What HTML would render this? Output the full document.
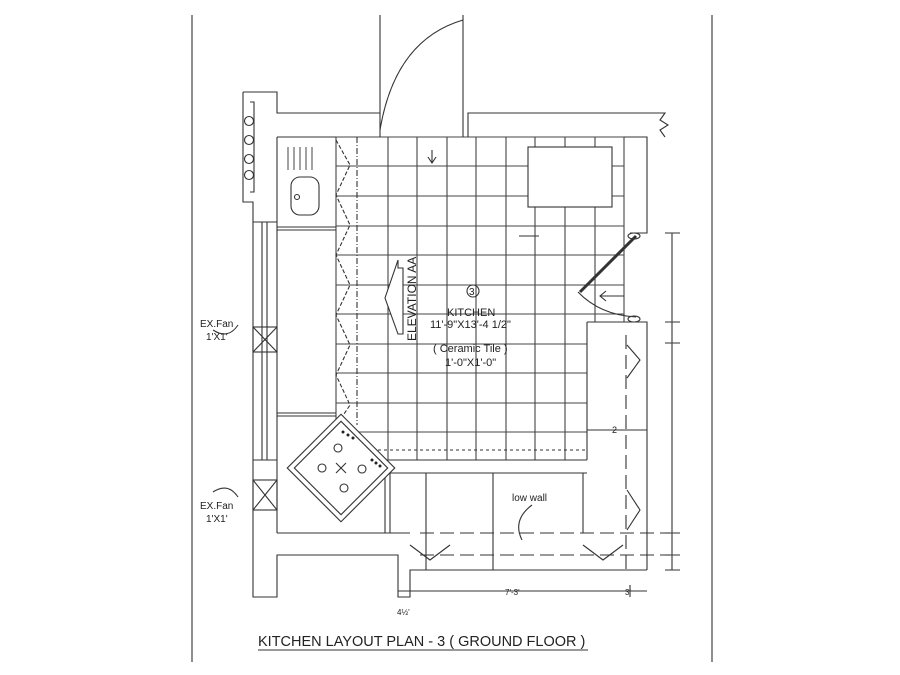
<!DOCTYPE html>
<html><head><meta charset="utf-8"><style>body{margin:0;background:#fff}svg{display:block}text{font-family:"Liberation Sans",sans-serif;fill:#222}</style></head><body>
<svg width="900" height="675" viewBox="0 0 900 675" xmlns="http://www.w3.org/2000/svg" stroke="#333" fill="none" stroke-width="1.1">
<line x1="192" y1="15" x2="192" y2="662"/><line x1="712" y1="15" x2="712" y2="662"/>
<g stroke="#444">
<line x1="336" y1="137" x2="624" y2="137"/>
<line x1="336" y1="166" x2="624" y2="166"/><line x1="336" y1="196" x2="624" y2="196"/><line x1="336" y1="226" x2="624" y2="226"/><line x1="336" y1="255" x2="624" y2="255"/><line x1="336" y1="285" x2="624" y2="285"/><line x1="336" y1="314" x2="624" y2="314"/><line x1="336" y1="344" x2="587" y2="344"/><line x1="336" y1="373" x2="587" y2="373"/><line x1="336" y1="403" x2="587" y2="403"/><line x1="355" y1="432" x2="587" y2="432"/>
<line x1="388" y1="137" x2="388" y2="460"/><line x1="417" y1="137" x2="417" y2="460"/><line x1="447" y1="137" x2="447" y2="460"/><line x1="476" y1="137" x2="476" y2="460"/><line x1="506" y1="137" x2="506" y2="460"/><line x1="535" y1="137" x2="535" y2="460"/><line x1="565" y1="137" x2="565" y2="460"/><line x1="595" y1="137" x2="595" y2="322"/><line x1="624" y1="137" x2="624" y2="322"/>
<line x1="336" y1="137" x2="336" y2="422"/>
</g>
<line x1="357" y1="137" x2="357" y2="425" stroke-dasharray="6,2,1,2"/>
<polyline points="336,140 350,165 336,195 350,225 336,255 350,285 336,315 350,345 336,375 350,405 340,420" stroke-dasharray="4,2"/>
<rect x="528" y="147" width="84" height="60" fill="#fff"/>
<polyline points="243,92 277,92 277,113 380,113"/>
<polyline points="243,92 243,202 253,202 253,597 277,597 277,555 398,555 398,597 410,597 410,570 647,570"/>
<polyline points="250,102 254,102 254,192 250,192"/>
<circle cx="249" cy="121" r="4.5"/><circle cx="249" cy="140" r="4.5"/><circle cx="249" cy="159" r="4.5"/><circle cx="249" cy="175" r="4.5"/>
<line x1="277" y1="137" x2="277" y2="533"/><line x1="262" y1="222" x2="262" y2="460"/><line x1="267" y1="222" x2="267" y2="460"/>
<line x1="253" y1="222" x2="277" y2="222"/><line x1="253" y1="460" x2="277" y2="460"/>
<rect x="253" y="327" width="24" height="25"/><line x1="253" y1="327" x2="277" y2="352"/><line x1="277" y1="327" x2="253" y2="352"/>
<rect x="253" y="480" width="24" height="30"/><line x1="253" y1="480" x2="277" y2="510"/><line x1="277" y1="480" x2="253" y2="510"/>
<line x1="277" y1="137" x2="336" y2="137"/><line x1="277" y1="227" x2="336" y2="227"/><line x1="277" y1="230" x2="336" y2="230"/>
<line x1="277" y1="413" x2="336" y2="413"/><line x1="277" y1="416" x2="336" y2="416"/>
<line x1="277" y1="533" x2="410" y2="533"/>
<g stroke="#555"><line x1="288" y1="147" x2="288" y2="170"/><line x1="294" y1="147" x2="294" y2="170"/><line x1="300" y1="147" x2="300" y2="170"/><line x1="306" y1="147" x2="306" y2="170"/><line x1="312" y1="147" x2="312" y2="170"/></g>
<rect x="291" y="177" width="28" height="38" rx="9"/><circle cx="297" cy="197" r="2.5"/>
<line x1="380" y1="15" x2="380" y2="137"/><line x1="463" y1="15" x2="463" y2="137"/>
<path d="M380,130 Q395,40 463,20"/>
<polyline points="468,137 468,113 665,113 660,120 668,125 660,130 665,137"/>
<polyline points="624,137 647,137 647,233 630,233"/>
<path d="M432,150 v12 M428,157 l4,6 l4,-6"/>
<line x1="636" y1="236" x2="580" y2="292" stroke-width="3"/>
<path d="M578,292 Q600,315 636,317"/>
<ellipse cx="634" cy="236" rx="6" ry="3"/><ellipse cx="634" cy="319" rx="6" ry="3"/>
<path d="M600,296 h24 M606,291 l-6,5 l6,5"/>
<path d="M519,236 h20"/>
<polyline points="587,322 647,322 647,570"/>
<line x1="587" y1="322" x2="587" y2="460"/>
<line x1="626" y1="335" x2="626" y2="570" stroke-dasharray="14,6"/>
<polyline points="627,345 640,360 627,378"/><polyline points="627,490 640,510 627,530"/>
<line x1="587" y1="430" x2="647" y2="430"/>
<text x="612" y="433" font-size="9" stroke="none">2</text>
<line x1="672" y1="233" x2="672" y2="570"/>
<g stroke="#444"><line x1="665" y1="233" x2="680" y2="233"/><line x1="665" y1="322" x2="680" y2="322"/><line x1="665" y1="343" x2="680" y2="343"/><line x1="665" y1="533" x2="680" y2="533"/><line x1="665" y1="555" x2="680" y2="555"/><line x1="665" y1="570" x2="680" y2="570"/></g>
<line x1="385" y1="460" x2="587" y2="460"/><line x1="385" y1="473" x2="587" y2="473"/>
<line x1="360" y1="450" x2="587" y2="450" stroke-dasharray="3,3"/>
<line x1="420" y1="533" x2="670" y2="533" stroke-dasharray="14,6"/><line x1="420" y1="555" x2="670" y2="555" stroke-dasharray="14,6"/>
<line x1="385" y1="473" x2="385" y2="533"/><line x1="390" y1="473" x2="390" y2="533"/><line x1="583" y1="473" x2="583" y2="533"/>
<polyline points="410,545 430,560 450,545"/><polyline points="583,545 603,560 623,545"/>
<line x1="426" y1="473" x2="426" y2="570"/><line x1="493" y1="473" x2="493" y2="570"/>
<line x1="398" y1="591" x2="647" y2="591"/><line x1="630" y1="585" x2="630" y2="597"/>
<g transform="translate(341,468) rotate(45)">
<rect x="-38" y="-38" width="76" height="76" fill="#fff"/><rect x="-33" y="-33" width="66" height="66"/>
</g>
<g stroke="#333"><circle cx="338" cy="448" r="4"/><circle cx="322" cy="468" r="4"/><circle cx="362" cy="469" r="4"/><circle cx="344" cy="488" r="4"/>
<path d="M336,463 l10,10 M346,463 l-10,10"/></g>
<g fill="#222" stroke="none"><circle cx="343" cy="432" r="1.5"/><circle cx="348" cy="435" r="1.5"/><circle cx="353" cy="438" r="1.5"/><circle cx="372" cy="460" r="1.5"/><circle cx="376" cy="463" r="1.5"/><circle cx="380" cy="466" r="1.5"/></g>
<polygon points="398,260 398,268 403,268 403,334 398,334 385,298" fill="#fff"/>
<text transform="translate(416,341) rotate(-90)" font-size="12" stroke="none">ELEVATION AA</text>
<circle cx="473" cy="291" r="6"/>
<g stroke="none" font-size="11">
<text x="469" y="295" font-size="10">3</text>
<text x="447" y="316">KITCHEN</text>
<text x="430" y="328">11'-9"X13'-4 1/2"</text>
<text x="433" y="352">( Ceramic Tile )</text>
<text x="445" y="366">1'-0"X1'-0"</text>
<text x="200" y="327" font-size="10">EX.Fan</text><text x="206" y="340" font-size="10">1'X1'</text>
<text x="200" y="509" font-size="10">EX.Fan</text><text x="206" y="522" font-size="10">1'X1'</text>
<text x="512" y="501" font-size="10">low wall</text>
<text x="505" y="595" font-size="8">7'-3'</text>
<text x="625" y="595" font-size="8">3'</text>
<text x="397" y="615" font-size="8">4½'</text>
<text x="258" y="646" font-size="14.5">KITCHEN LAYOUT PLAN - 3 ( GROUND FLOOR )</text>
</g>
<path d="M238,325 q-10,15 -25,5" /><path d="M238,497 q-10,-15 -25,-5"/><path d="M532,505 q-20,15 -10,35"/>
<line x1="258" y1="650" x2="588" y2="650"/>
</svg>
</body></html>
